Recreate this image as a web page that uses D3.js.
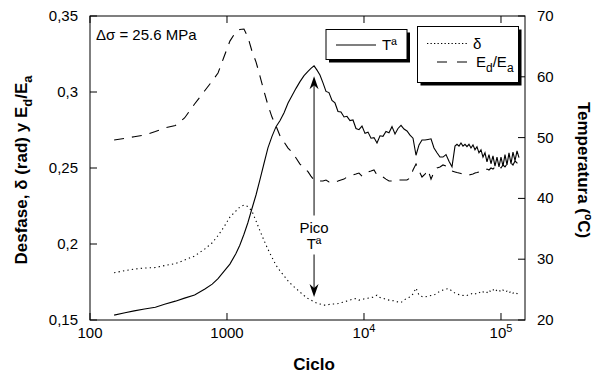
<!DOCTYPE html>
<html><head><meta charset="utf-8">
<script src="https://cdn.jsdelivr.net/npm/d3@7"></script>
<style>
body{margin:0;background:#fff;}
svg text{font-family:"Liberation Sans",Arial,Helvetica,sans-serif;fill:#000;}
</style></head>
<body><svg id="c" width="603" height="374"></svg>
<script>
// ---- data ----
const ciclo = [150,180,210,250,300,350,420,490,580,690,780,860,950,1050,1160,1240,1330,1420,1520,1630,
 1740,1860,1990,2130,2280,2440,2610,2790,2980,3190,3410,3650,3900,4100,4320,4540,4770,
 5020,5280,5550,5840,6140,6460,6790,7150,7510,7900,8310,8740,9190,9670,10170,10700,11250,11830,12440,13090,
 13760,14470,15220,16010,16840,17710,18630,19590,20600,21670,22790,23970,25210,26510,27880,29330,30840,32430,34110,35870,
 37730,39680,41730,43890,46160,
 47740,49370,51050,52790,54600,56460,58390,60390,62450,64580,66790,69070,71450,73890,76410,79020,81720,84510,87400,90380,
 93490,96690,100000,103400,106950,110600,114400,118300,122300,126600,130900,135300];

const temperatura = [20.8,21.2,21.5,21.8,22.1,22.6,23.1,23.6,24.1,25.1,25.9,26.8,28.0,29.2,30.9,32.3,34.1,36.0,38.3,40.6,
 43.1,45.7,48.3,50.2,51.8,52.8,54.1,55.7,56.9,58.1,59.2,60.2,60.9,61.4,61.8,61.1,60.3,
 59.0,57.6,57.4,56.1,55.7,54.3,54.2,53.4,53.5,52.8,52.9,51.5,51.3,51.9,50.7,50.9,49.9,50.0,49.1,50.3,
 50.2,51.0,50.8,51.8,50.6,51.5,52.0,51.4,51.1,50.4,49.9,47.1,48.8,49.6,49.6,49.7,49.8,48.3,47.5,46.8,
 46.8,47.2,46.1,45.2,48.6,
 48.9,48.6,49.1,48.6,48.9,48.5,48.9,48.3,48.8,48.0,48.5,47.5,48.0,46.8,47.5,46.0,47.2,45.7,47.0,45.3,
 46.8,45.2,46.8,45.3,47.2,45.5,47.5,45.7,47.6,46.2,47.8,46.7];

const desfase = [0.1811,0.1825,0.1835,0.1842,0.1845,0.1858,0.1871,0.1894,0.1921,0.1968,0.2008,0.2055,0.2112,0.2177,0.2217,0.2243,0.2256,0.2246,0.2217,0.2151,
 0.2087,0.2025,0.1965,0.1912,0.1860,0.1823,0.1790,0.1758,0.1730,0.1707,0.1684,0.1661,0.1641,0.1631,0.1620,0.1611,0.1605,
 0.1598,0.1598,0.1602,0.1605,0.1605,0.1608,0.1614,0.1618,0.1625,0.1631,0.1638,0.1641,0.1631,0.1635,0.1641,0.1644,0.1648,0.1651,0.1664,0.1648,
 0.1644,0.1635,0.1631,0.1628,0.1625,0.1618,0.1615,0.1631,0.1644,0.1651,0.1671,0.1710,0.1664,0.1654,0.1651,0.1658,0.1661,0.1664,0.1677,0.1690,
 0.1697,0.1704,0.1707,0.1690,0.1677,
 0.1671,0.1667,0.1664,0.1661,0.1664,0.1661,0.1667,0.1671,0.1677,0.1671,0.1677,0.1684,0.1674,0.1684,0.1690,0.1681,0.1697,0.1684,0.1697,0.1707,
 0.1690,0.1697,0.1684,0.1697,0.1684,0.1690,0.1677,0.1690,0.1677,0.1684,0.1674,0.1677];

const rigidez = [0.2684,0.2695,0.2706,0.2717,0.2740,0.2763,0.2780,0.2829,0.2921,0.3010,0.3072,0.3125,0.3230,0.3335,0.3395,0.3411,0.3414,0.3362,0.3270,0.3197,
 0.3105,0.3007,0.2914,0.2835,0.2776,0.2710,0.2671,0.2631,0.2605,0.2566,0.2526,0.2500,0.2476,0.2447,0.2421,0.2414,0.2414,
 0.2414,0.2421,0.2408,0.2414,0.2408,0.2414,0.2421,0.2427,0.2441,0.2447,0.2454,0.2460,0.2467,0.2447,0.2460,0.2474,0.2480,0.2487,0.2454,0.2454,
 0.2441,0.2427,0.2414,0.2414,0.2414,0.2421,0.2421,0.2421,0.2421,0.2434,0.2487,0.2526,0.2480,0.2441,0.2460,0.2487,0.2427,0.2474,0.2500,0.2507,
 0.2520,0.2513,0.2493,0.2480,0.2474,
 0.2470,0.2467,0.2464,0.2460,0.2454,0.2454,0.2454,0.2457,0.2460,0.2467,0.2470,0.2474,0.2480,0.2487,0.2487,0.2493,0.2487,0.2500,0.2493,0.2507,
 0.2500,0.2513,0.2500,0.2520,0.2507,0.2526,0.2513,0.2533,0.2520,0.2546,0.2533,0.2553];

const xTicks = [100, 1000, 10000, 100000];
const xTickLabels = [["100",""],["1000",""],["10","4"],["10","5"]];
const yLeftTicks = [0.15, 0.2, 0.25, 0.3, 0.35];
const yLeftLabels = ["0,15","0,2","0,25","0,3","0,35"];
const yRightTicks = [20, 30, 40, 50, 60, 70];
const picoCiclo = 4320, picoTop = 60.1, picoBottom = 23.8;

// ---- layout ----
const W = 603, H = 374;
const m = {l:90, r:78, t:16, b:54};
const svg = d3.select("#c");
const x = d3.scaleLog().domain([100, 149700]).range([m.l, W - m.r]);
const yL = d3.scaleLinear().domain([0.15, 0.35]).range([H - m.b, m.t]);
const yR = d3.scaleLinear().domain([20, 70]).range([H - m.b, m.t]);
const x0 = m.l, x1 = W - m.r, y0 = H - m.b, y1 = m.t;
const TL = 7;

// frame
svg.append("rect").attr("x", x0).attr("y", y1).attr("width", x1 - x0).attr("height", y0 - y1)
  .attr("fill", "none").attr("stroke", "#000").attr("stroke-width", 1);

// ticks
const g = svg.append("g").attr("stroke", "#000").attr("stroke-width", 1);
xTicks.forEach(t => {
  const px = x(t);
  g.append("line").attr("x1", px).attr("x2", px).attr("y1", y0).attr("y2", y0 - TL);
  g.append("line").attr("x1", px).attr("x2", px).attr("y1", y1).attr("y2", y1 + TL);
});
yLeftTicks.forEach(t => g.append("line").attr("x1", x0).attr("x2", x0 + TL).attr("y1", yL(t)).attr("y2", yL(t)));
yRightTicks.forEach(t => g.append("line").attr("x1", x1).attr("x2", x1 - TL).attr("y1", yR(t)).attr("y2", yR(t)));

const FS = 15;
xTicks.forEach((t, i) => {
  const tx = svg.append("text").attr("x", x(t)).attr("y", y0 + 18).attr("text-anchor", "middle")
    .attr("font-size", FS);
  tx.append("tspan").text(xTickLabels[i][0]);
  if (xTickLabels[i][1]) tx.append("tspan").attr("dy", -6).attr("font-size", 11).text(xTickLabels[i][1]);
});
yLeftTicks.forEach((t, i) => svg.append("text").attr("x", x0 - 12).attr("y", yL(t) + 5)
  .attr("text-anchor", "end").attr("font-size", FS).text(yLeftLabels[i]));
yRightTicks.forEach(t => svg.append("text").attr("x", x1 + 12).attr("y", yR(t) + 5)
  .attr("font-size", FS).text(t));

// axis titles
svg.append("text").attr("x", 314).attr("y", 370).attr("text-anchor", "middle")
  .attr("font-size", 17).attr("font-weight", "bold").text("Ciclo");
const lt = svg.append("text").attr("transform", "translate(27,170) rotate(-90)").attr("text-anchor", "middle")
  .attr("font-size", 17).attr("font-weight", "bold");
lt.append("tspan").text("Desfase, δ (rad) y E");
lt.append("tspan").attr("dy", 5).attr("font-size", 13).text("d");
lt.append("tspan").attr("dy", -5).text("/E");
lt.append("tspan").attr("dy", 5).attr("font-size", 13).text("a");
svg.append("text").attr("transform", "translate(578,170) rotate(90)").attr("text-anchor", "middle")
  .attr("font-size", 17).attr("font-weight", "bold").text("Temperatura (ºC)");

// series
const idx = d3.range(ciclo.length);
const lineT = d3.line().x(i => x(ciclo[i])).y(i => yR(temperatura[i]));
const lineD = d3.line().x(i => x(ciclo[i])).y(i => yL(desfase[i]));
const lineE = d3.line().x(i => x(ciclo[i])).y(i => yL(rigidez[i]));
svg.append("path").attr("d", lineD(idx)).attr("fill", "none").attr("stroke", "#000")
  .attr("stroke-width", 1.1).attr("stroke-dasharray", "1.3,3.2");
svg.append("path").attr("d", lineE(idx)).attr("fill", "none").attr("stroke", "#000")
  .attr("stroke-width", 1.1).attr("stroke-dasharray", "10,8");
svg.append("path").attr("d", lineT(idx)).attr("fill", "none").attr("stroke", "#000")
  .attr("stroke-width", 1.1);

// annotation: Δσ
svg.append("text").attr("x", 96).attr("y", 40).attr("font-size", FS).text("Δσ = 25.6 MPa");

// Pico arrow
const ax = x(picoCiclo), aTop = yR(picoTop), aBot = yR(picoBottom);
const tPico = 232.5, tT = 248.5;
svg.append("line").attr("x1", ax).attr("x2", ax).attr("y1", aTop + 6).attr("y2", tPico - 17).attr("stroke", "#000");
svg.append("line").attr("x1", ax).attr("x2", ax).attr("y1", tT + 6).attr("y2", aBot - 6).attr("stroke", "#000");
function head(tipY, dir) {
  const p = [[ax, tipY], [ax + 4.5, tipY + dir * 13], [ax, tipY + dir * 9], [ax - 4.5, tipY + dir * 13]];
  svg.append("path").attr("d", "M" + p.map(q => q.join(",")).join("L") + "Z").attr("fill", "#000");
}
head(aTop, 1); head(aBot, -1);
svg.append("text").attr("x", ax).attr("y", tPico).attr("text-anchor", "middle").attr("font-size", FS).text("Pico");
svg.append("text").attr("x", ax).attr("y", tT).attr("text-anchor", "middle").attr("font-size", FS).text("Tª");

// legends
function box(bx, by, bw, bh) {
  svg.append("rect").attr("x", bx + 3).attr("y", by + 3).attr("width", bw).attr("height", bh).attr("fill", "#000");
  svg.append("rect").attr("x", bx).attr("y", by).attr("width", bw).attr("height", bh)
    .attr("fill", "#fff").attr("stroke", "#000").attr("stroke-width", 1);
}
box(326, 29.5, 81, 30);
svg.append("line").attr("x1", 336).attr("x2", 376).attr("y1", 45).attr("y2", 45).attr("stroke", "#000").attr("stroke-width", 1.1);
svg.append("text").attr("x", 382).attr("y", 50).attr("font-size", FS).text("Tª");

box(417.5, 26.5, 101, 56);
svg.append("line").attr("x1", 427).attr("x2", 467).attr("y1", 43.5).attr("y2", 43.5).attr("stroke", "#000")
  .attr("stroke-width", 1.1).attr("stroke-dasharray", "1.3,2.2");
svg.append("text").attr("x", 473).attr("y", 49).attr("font-size", FS).text("δ");
svg.append("line").attr("x1", 437).attr("x2", 467).attr("y1", 62).attr("y2", 62).attr("stroke", "#000")
  .attr("stroke-width", 1.1).attr("stroke-dasharray", "10,10");
const le = svg.append("text").attr("x", 476).attr("y", 67).attr("font-size", FS);
le.append("tspan").text("E");
le.append("tspan").attr("dy", 5).attr("font-size", 12).text("d");
le.append("tspan").attr("dy", -5).text("/E");
le.append("tspan").attr("dy", 5).attr("font-size", 12).text("a");
</script></body></html>
